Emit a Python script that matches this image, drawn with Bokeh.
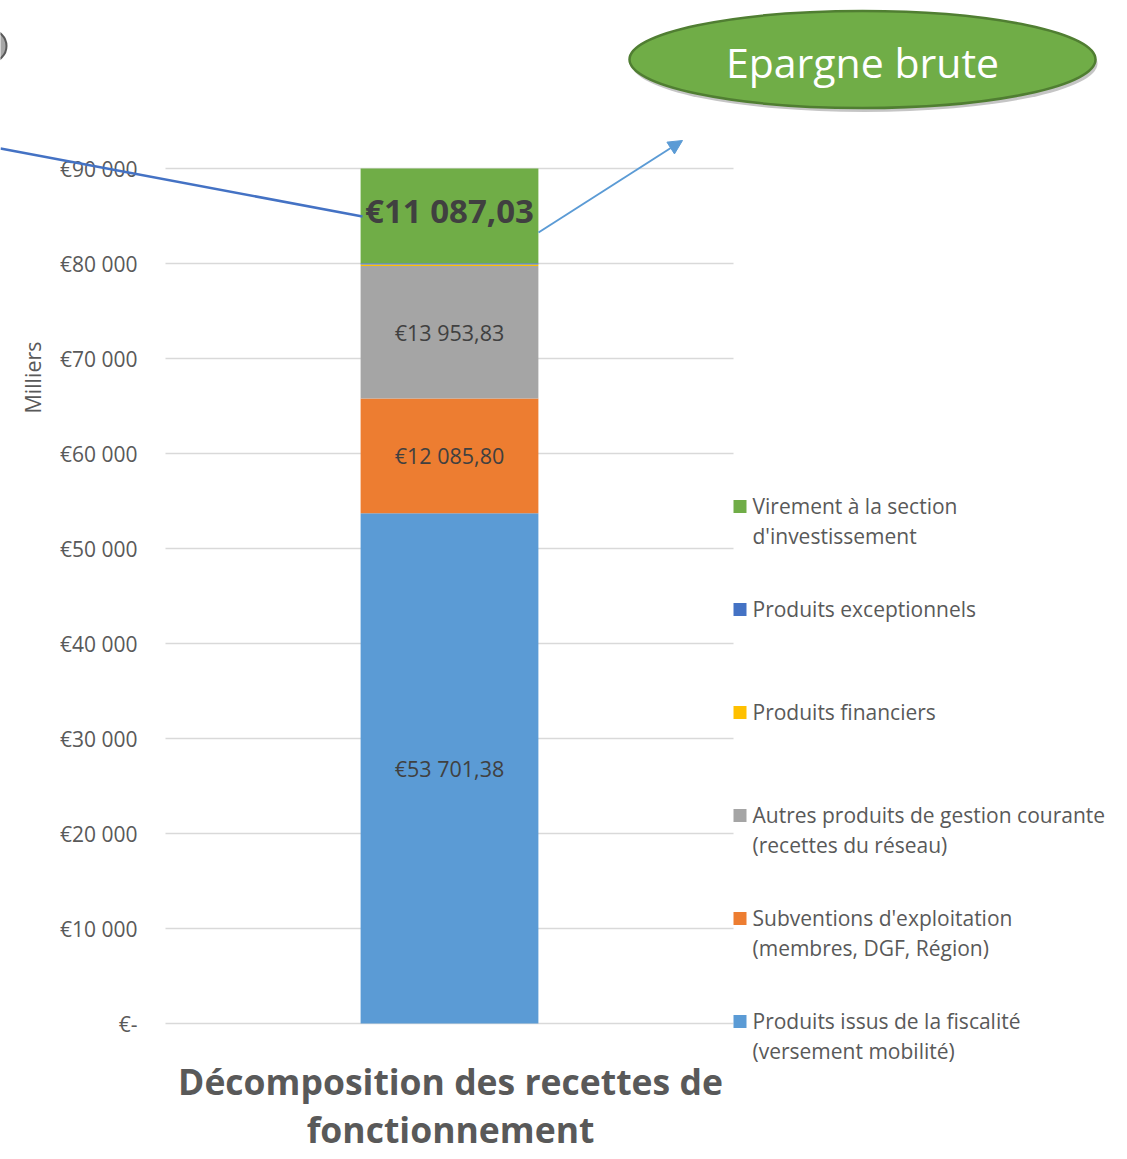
import numpy as np
from bokeh.plotting import figure
from bokeh.models import Range1d, ColumnDataSource, Arrow, NormalHead
from bokeh.core.properties import value
from bokeh.embed import file_html
from bokeh.resources import INLINE

# ---------------- data ----------------
series_names = [
    "Produits issus de la fiscalité\n(versement mobilité)",
    "Subventions d'exploitation\n(membres, DGF, Région)",
    "Autres produits de gestion courante\n(recettes du réseau)",
    "Produits financiers",
    "Produits exceptionnels",
    "Virement à la section\nd'investissement",
]
series_values = [53701.38, 12085.80, 13953.83, 150.0, 130.0, 11087.03]
series_colors = ["#5B9BD5", "#ED7D31", "#A5A5A5", "#FFC000", "#4472C4", "#70AD47"]
labelled = [True, True, True, False, False, True]
y_ticks = [0, 10000, 20000, 30000, 40000, 50000, 60000, 70000, 80000, 90000]
y_tick_labels = ["€-", "€10 000", "€20 000", "€30 000", "€40 000", "€50 000",
                 "€60 000", "€70 000", "€80 000", "€90 000"]
title_lines = ["Décomposition des recettes de", "fonctionnement"]
axis_title = "Milliers"
callout_text = "Epargne brute"

FONT = value("Open Sans")
GREY_TXT = "#595959"
DARK_TXT = "#404040"

# ---------------- geometry (pixels of the canvas) ----------------
W, H = 1115, 1155
FL, FR, FT, FB = 165, 733, 168, 1023  # plot-area edges
YMAX = y_ticks[-1]


def X(px):
    return (px - FL) / (FR - FL)


def Y(py):
    return (FB - py) * YMAX / (FB - FT)


p = figure(width=W, height=H, x_range=Range1d(X(0), X(W)), y_range=Range1d(Y(H), Y(0)),
           output_backend="svg", toolbar_location=None,
           x_axis_type=None, y_axis_type=None,
           min_border=0, min_border_left=0, min_border_right=0,
           min_border_top=0, min_border_bottom=0)
p.outline_line_color = None
p.grid.visible = False
p.background_fill_color = "white"
p.border_fill_color = "white"

# ---------------- value axis: grid lines + tick labels ----------------
grid_src = ColumnDataSource({"y": y_ticks, "x0": [X(FL)] * len(y_ticks),
                             "x1": [X(FR)] * len(y_ticks),
                             "xl": [X(137)] * len(y_ticks), "lab": y_tick_labels})
p.segment(x0="x0", x1="x1", y0="y", y1="y", source=grid_src,
          line_color="#D9D9D9", line_width=1.5)
p.text(x="xl", y="y", text="lab", source=grid_src, text_font=FONT,
       text_font_size="21px", text_color=GREY_TXT, text_align="right",
       text_baseline="middle")

# ---------------- stacked bar (clipped at the axis maximum) ----------------
vals = np.array(series_values)
tops = np.cumsum(vals)
bottoms = tops - vals
shown_tops = np.minimum(tops, YMAX)
bar_src = ColumnDataSource({"x": [0.5] * len(vals), "bottom": bottoms,
                            "top": shown_tops, "color": series_colors})
p.vbar(x="x", width=0.313, bottom="bottom", top="top", fill_color="color",
       line_color=None, source=bar_src)

centers = (tops + bottoms) / 2


def fmt(v):
    return "€" + f"{v:,.2f}".replace(",", " ").replace(".", ",")


last = len(vals) - 1
reg_idx = [i for i in range(len(vals)) if labelled[i] and i != last]
lab_src = ColumnDataSource({"x": [0.5] * len(reg_idx),
                            "y": [centers[i] for i in reg_idx],
                            "text": [fmt(vals[i]) for i in reg_idx]})
p.text(x="x", y="y", text="text", source=lab_src, text_font=FONT,
       text_font_size="21.5px", text_color=DARK_TXT, text_align="center",
       text_baseline="middle")
big_src = ColumnDataSource({"x": [0.5], "y": [centers[last]], "text": [fmt(vals[last])]})
p.text(x="x", y="y", text="text", source=big_src, text_font=FONT,
       text_font_size="33px", text_font_style="bold", text_color=DARK_TXT,
       text_align="center", text_baseline="middle")

# ---------------- axis title ----------------
p.text(x=[X(32)], y=[Y(377)], text=[axis_title], angle=np.pi / 2, text_font=FONT,
       text_font_size="21.5px", text_color=GREY_TXT, text_align="center",
       text_baseline="middle")

# ---------------- legend ----------------
order = list(reversed(range(len(series_names))))
row_y = [505 + 103 * k for k in range(len(order))]
p.scatter(x=[X(739.5)] * len(order), y=[Y(r + 1) for r in row_y], marker="square",
          size=13, fill_color=[series_colors[i] for i in order], line_color=None)
lx, ly, lt = [], [], []
for k, i in enumerate(order):
    for j, line in enumerate(series_names[i].split("\n")):
        lx.append(X(752))
        ly.append(Y(row_y[k] + 30 * j))
        lt.append(line)
p.text(x=lx, y=ly, text=lt, text_font=FONT, text_font_size="21px",
       text_color=GREY_TXT, text_align="left", text_baseline="middle")

# ---------------- title ----------------
p.text(x=[X(450)] * len(title_lines), y=[Y(1080 + 48 * j) for j in range(len(title_lines))],
       text=title_lines, text_font=FONT, text_font_size="35.5px", text_font_style="bold",
       text_color=GREY_TXT, text_align="center", text_baseline="alphabetic")

# ---------------- callouts ----------------
p.scatter(x=[X(-10)], y=[Y(45.5)], marker="circle", size=32,
          fill_color="#A6A6A6", line_color="#595959", line_width=2)
p.add_layout(Arrow(end=None, x_start=X(0), y_start=Y(148), x_end=X(362), y_end=Y(216),
                   line_color="#4472C4", line_width=2.5))
p.add_layout(Arrow(end=NormalHead(size=14, fill_color="#5B9BD5", line_color="#5B9BD5"),
                   x_start=X(538), y_start=Y(232), x_end=X(682), y_end=Y(140),
                   line_color="#5B9BD5", line_width=2))

p.ellipse(x=[X(864)], y=[Y(63)], width=466, height=97, width_units="screen",
          height_units="screen", fill_color="#7F7F7F", fill_alpha=0.45, line_color=None)
p.ellipse(x=[X(862)], y=[Y(59)], width=466, height=97, width_units="screen",
          height_units="screen", fill_color="#70AD47", line_color="#507E32",
          line_width=2.5)
p.text(x=[X(862)], y=[Y(61)], text=[callout_text], text_font=FONT,
       text_font_size="41px", text_color="white", text_align="center",
       text_baseline="middle")

open("out.html", "w").write(file_html(p, INLINE))
